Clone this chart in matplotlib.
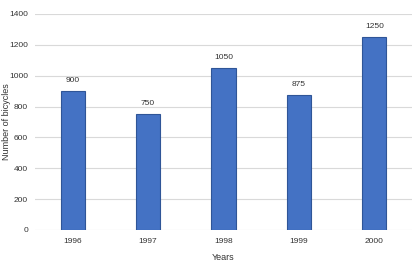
import matplotlib
matplotlib.use("Agg")
import matplotlib.pyplot as plt

years = ["1996", "1997", "1998", "1999", "2000"]
bicycles = [900, 750, 1050, 875, 1250]
yticks = [0, 200, 400, 600, 800, 1000, 1200, 1400]

plt.rcParams["font.family"] = ["Liberation Sans", "DejaVu Sans"]

fig = plt.figure(figsize=(4.17, 2.68), dpi=100)
ax = fig.add_axes([0.084, 0.142, 0.904, 0.806])

x = range(len(years))
ax.bar(x, bicycles, width=0.32, color="#4472C4",
       edgecolor="#2F5597", linewidth=0.8, zorder=3)
for xi, v in zip(x, bicycles):
    ax.text(xi, v + 45, str(v), ha="center", va="bottom",
            fontsize=6, color="#333333")

ax.set_xlim(-0.5, len(years) - 0.5)
ax.set_ylim(0, 1400)
ax.set_yticks(yticks)
ax.set_xticks(list(x))
ax.set_xticklabels(years)
ax.tick_params(axis="both", length=0, labelsize=6, colors="#333333")
ax.tick_params(axis="x", pad=6)
ax.tick_params(axis="y", pad=5)
ax.grid(axis="y", color="#D9D9D9", linewidth=0.8, zorder=0)
for s in ax.spines.values():
    s.set_visible(False)

ax.set_xlabel("Years", fontsize=6.5, color="#333333")
ax.set_ylabel("Number of bicycles", fontsize=6.5, color="#333333")
ax.xaxis.set_label_coords(0.5, -0.105)
ax.yaxis.set_label_coords(-0.064, 0.5)

fig.savefig("out.png", dpi=100)
